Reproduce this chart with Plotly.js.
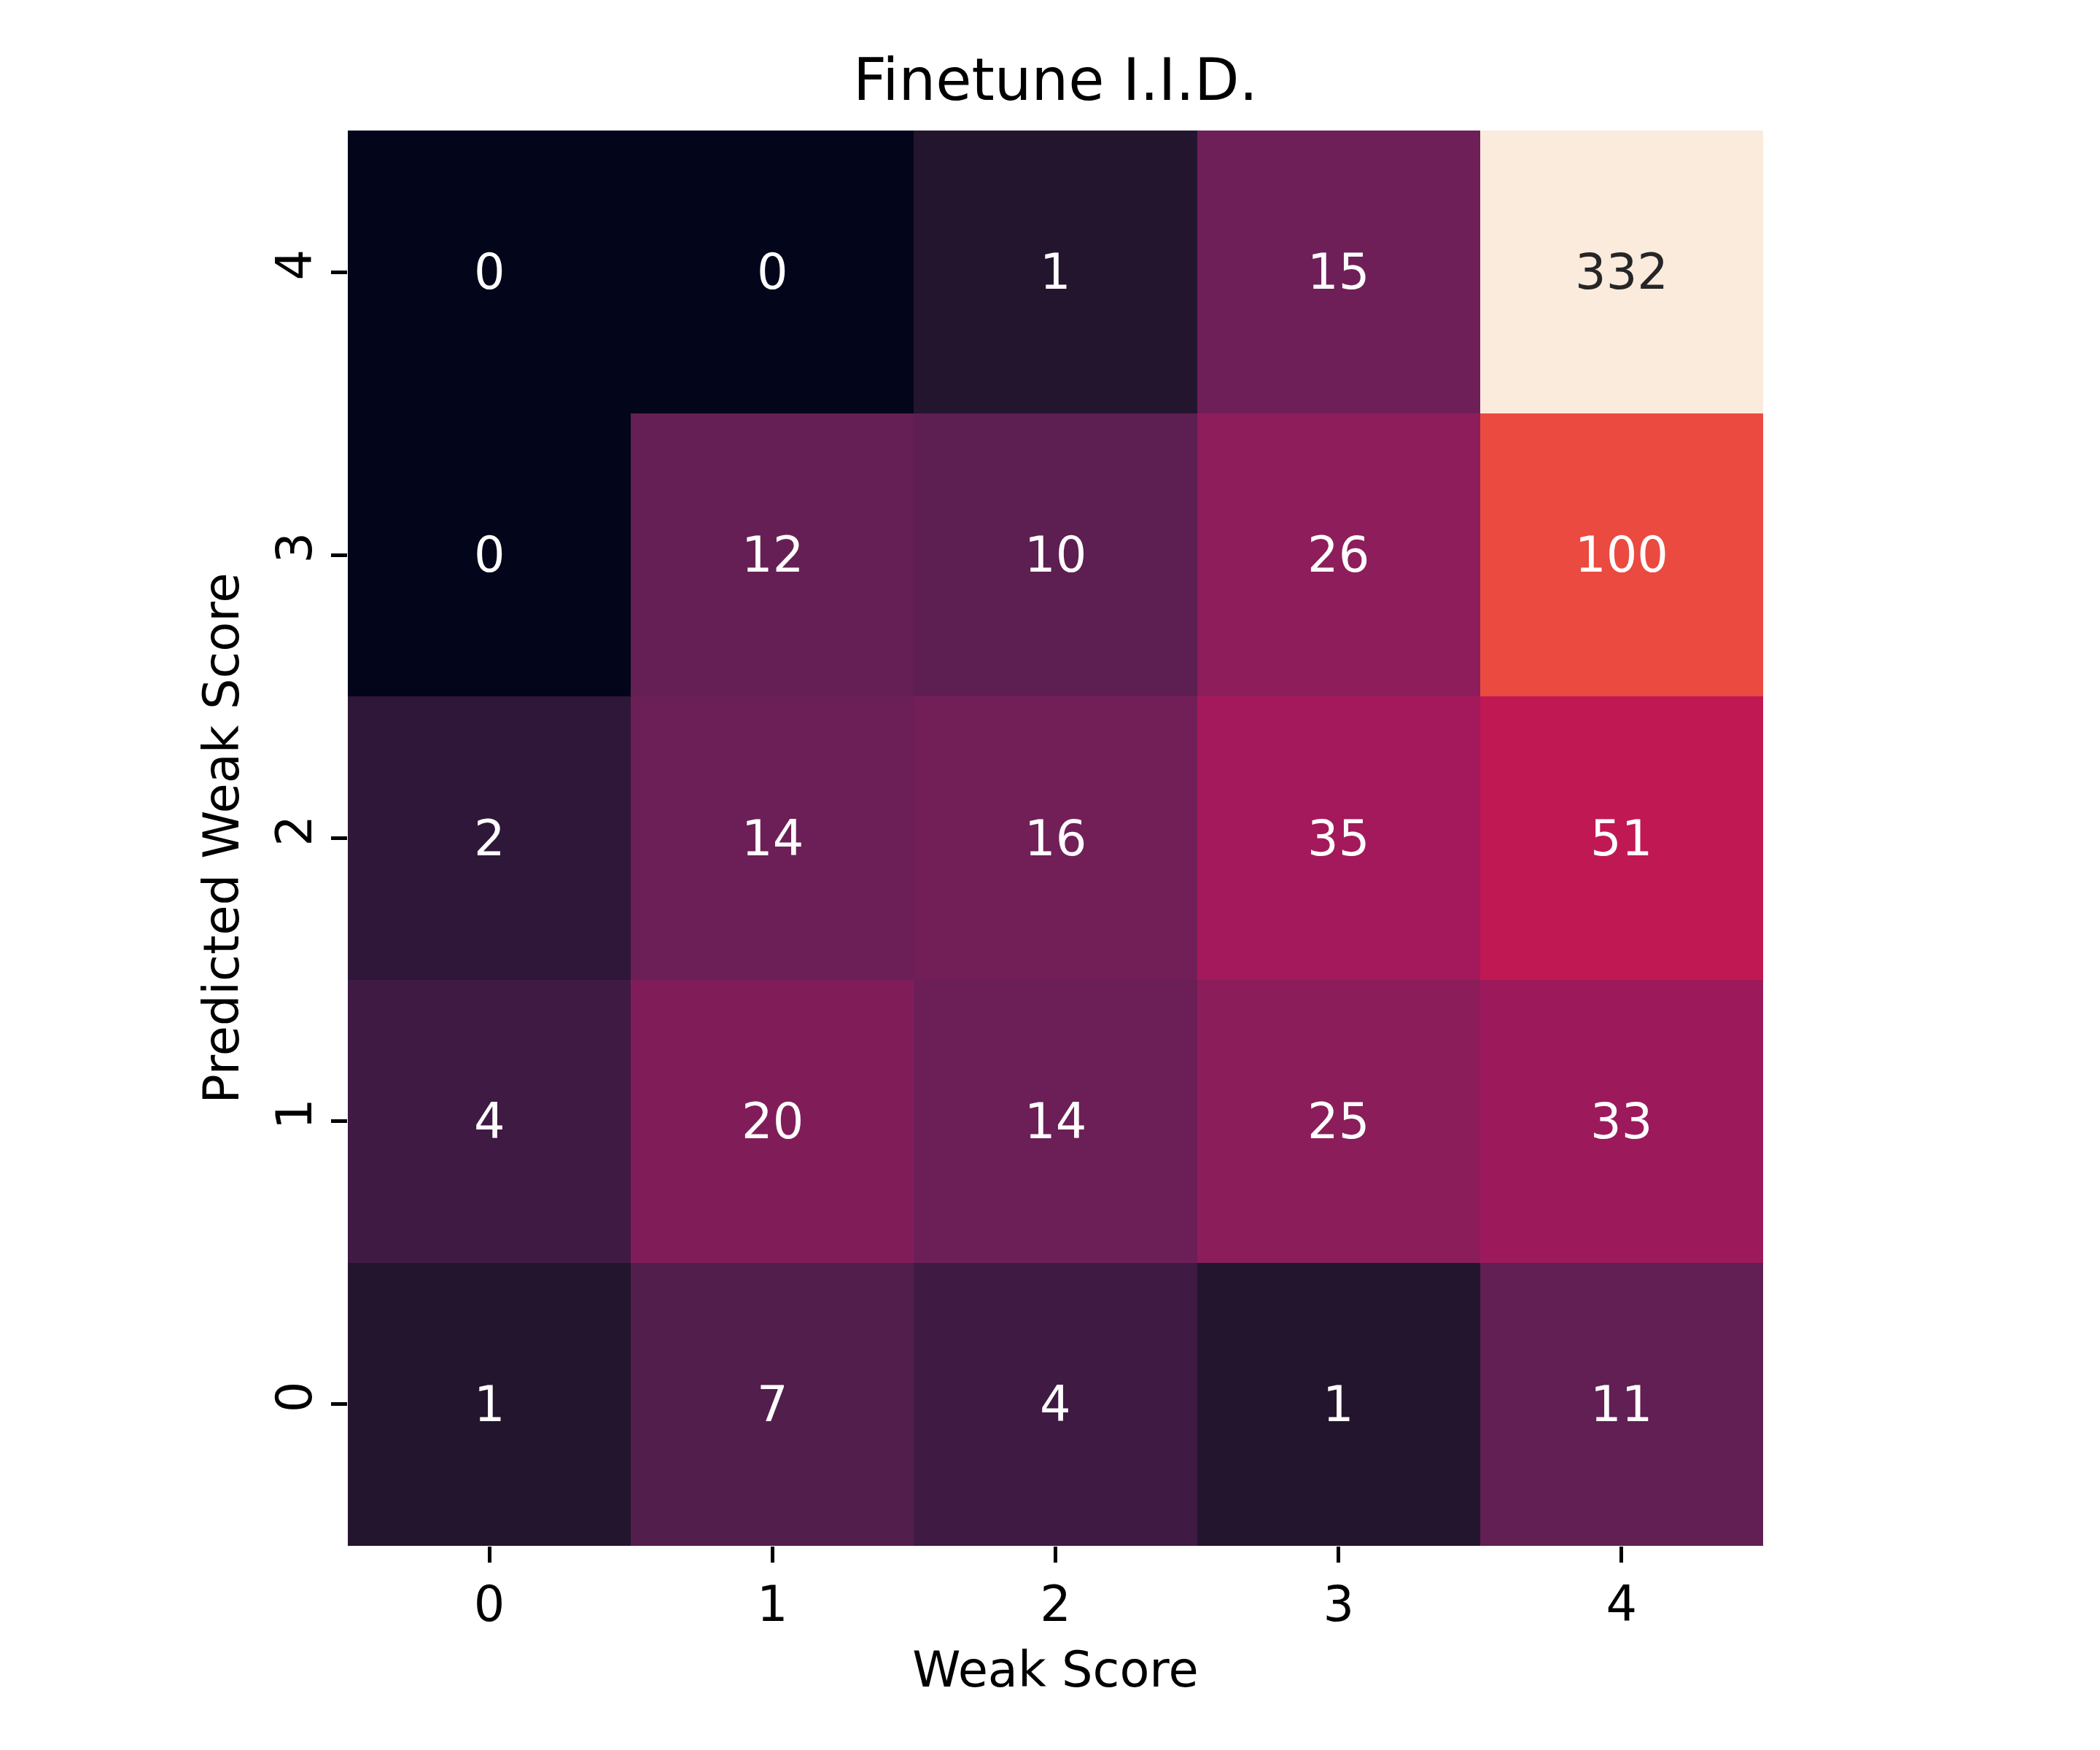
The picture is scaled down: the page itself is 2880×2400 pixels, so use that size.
<!DOCTYPE html>
<html>
<head>
<meta charset="utf-8">
<script src="https://cdn.plot.ly/plotly-3.0.1.min.js"></script>
<style>
  body { margin: 0; background: #fff; }
  #myPlot { width: 2880px; height: 2400px; }
</style>
</head>
<body>
<div id="myPlot"></div>
<script>
// categories on both axes
var xLabels = ['0', '1', '2', '3', '4'];
var yLabels = ['0', '1', '2', '3', '4'];

// counts, one row per predicted score (bottom row first)
var row0 = [1, 7, 4, 1, 11];
var row1 = [4, 20, 14, 25, 33];
var row2 = [2, 14, 16, 35, 51];
var row3 = [0, 12, 10, 26, 100];
var row4 = [0, 0, 1, 15, 332];

// colour for each count that appears
var levelValues = [0, 1, 2, 4, 7, 10, 11, 12, 14, 15, 16, 20, 25, 26, 33, 35, 51, 100, 332];
var levelColors = ['#03051a', '#24152f', '#2e1739', '#3f1a43', '#521e4c', '#5d1e51', '#611f53',
                   '#661f54', '#6c1f56', '#6f1f57', '#721f58', '#801d59', '#8a1d5a', '#8d1d5b',
                   '#9c1a5b', '#a3195b', '#c01852', '#eb4a40', '#faebdd'];

function renderPlot() {
    var zData = [row0, row1, row2, row3, row4];
    var vmax = levelValues[levelValues.length - 1];
    var scale = levelValues.map(function (v, i) { return [v / vmax, levelColors[i]]; });

    let trace = {
        type: 'heatmap',
        x: xLabels,
        y: yLabels,
        z: zData,
        zmin: 0,
        zmax: vmax,
        colorscale: scale,
        showscale: false,
        hoverinfo: 'x+y+z'
    };

    // cell labels
    var notes = [];
    for (var r = 0; r < zData.length; r++) {
        for (var c = 0; c < zData[r].length; c++) {
            var v = zData[r][c];
            notes.push({
                x: xLabels[c],
                y: yLabels[r],
                text: String(v),
                showarrow: false,
                font: { family: 'DejaVu Sans', size: 67, color: v > 200 ? '#262626' : '#ffffff' }
            });
        }
    }

    let layout = {
        width: 2880,
        height: 2400,
        margin: { l: 477, r: 462, t: 179, b: 280 },
        paper_bgcolor: '#ffffff',
        plot_bgcolor: '#ffffff',
        font: { family: 'DejaVu Sans', size: 67, color: '#000000' },
        title: {
            text: 'Finetune I.I.D.',
            font: { family: 'DejaVu Sans', size: 80, color: '#000000' },
            xref: 'paper', x: 0.5, xanchor: 'center',
            yref: 'container', y: 1 - 109 / 2400, yanchor: 'middle'
        },
        xaxis: {
            type: 'category',
            title: { text: 'Weak Score', standoff: 27, font: { size: 67 } },
            ticks: 'outside', ticklen: 22, tickwidth: 5, tickcolor: '#000000',
            showgrid: false, zeroline: false, showline: false,
            tickfont: { size: 67 }
        },
        yaxis: {
            type: 'category',
            title: { text: 'Predicted Weak Score', standoff: 15, font: { size: 67 } },
            ticks: 'outside', ticklen: 22, tickwidth: 5, tickcolor: '#000000',
            tickangle: -90,
            showgrid: false, zeroline: false, showline: false,
            tickfont: { size: 67 }
        },
        annotations: notes
    };

    Plotly.newPlot('myPlot', [trace], layout, { displayModeBar: false });
}

renderPlot();
</script>
</body>
</html>
